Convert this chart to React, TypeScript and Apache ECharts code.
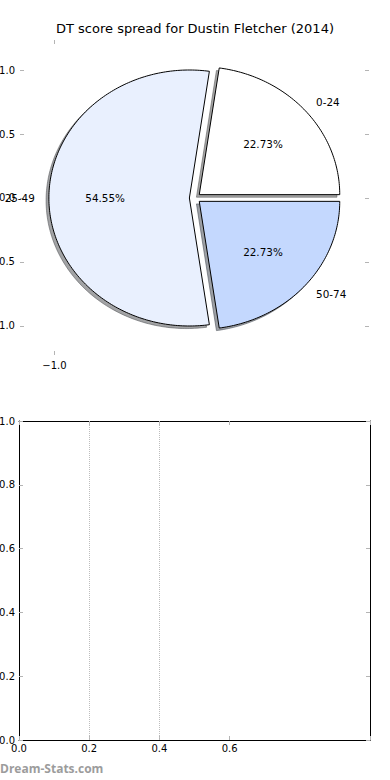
import React, { useEffect, useRef } from "react";
import * as echarts from "echarts";

// ---- data ----
const title = "DT score spread for Dustin Fletcher (2014)";
const categories = ["0-24", "25-49", "50-74"];
const counts = [5, 12, 5];
const sliceColors = ["#ffffff", "#e9f0fe", "#c4d8fe"];
const explode = [0.04, 0.04, 0.04];
const pieYTicks = [-1, -0.5, 0, 0.5, 1];
const pieXTicks = [-1];
const lowerXTicks = [0, 0.2, 0.4, 0.6, 1.0];
const lowerXLabels = [0, 0.2, 0.4, 0.6];
const lowerGridX = [0.2, 0.4];
const watermark = "Dream-Stats.com";

const FONT = "DejaVu Sans";
const TICK_COLOR = "#b4b4b4";

const fmt = (v: number) => (v < 0 ? "\u2212" : "") + Math.abs(v).toFixed(1);

function shadowColor(hex: string) {
  const r = parseInt(hex.slice(1, 3), 16);
  const g = parseInt(hex.slice(3, 5), 16);
  const b = parseInt(hex.slice(5, 7), 16);
  return `rgba(${Math.round(r * 0.3)},${Math.round(g * 0.3)},${Math.round(b * 0.3)},0.5)`;
}

const total = counts.reduce((a, b) => a + b, 0);

function wedgeAngles(i: number) {
  const before = counts.slice(0, i).reduce((a, b) => a + b, 0);
  const start = (before / total) * Math.PI * 2;
  const end = start + (counts[i] / total) * Math.PI * 2;
  return { start, end, mid: (start + end) / 2 };
}

function wedgePoints(api: any, i: number, dx: number, dy: number) {
  const { start, end, mid } = wedgeAngles(i);
  const ox = explode[i] * Math.cos(mid) + dx;
  const oy = explode[i] * Math.sin(mid) + dy;
  const pts: number[][] = [api.coord([ox, oy])];
  const n = Math.max(16, Math.ceil(((end - start) * 180) / Math.PI));
  for (let k = 0; k <= n; k++) {
    const a = start + ((end - start) * k) / n;
    pts.push(api.coord([ox + Math.cos(a), oy + Math.sin(a)]));
  }
  return pts;
}

const pieData = counts.map((c, i) => ({ name: categories[i], value: [0, 0, c] }));

function tickAxisCommon(extra: any) {
  return {
    type: "value",
    axisLine: { show: false, onZero: false },
    axisTick: { show: true, inside: true, length: 4, lineStyle: { color: TICK_COLOR, width: 1 } },
    splitLine: { show: false },
    ...extra,
  };
}

export default function App() {
  const ref = useRef<HTMLDivElement>(null);
  useEffect(() => {
    if (!ref.current) return;
    const chart = echarts.init(ref.current, undefined, { renderer: "svg" });
    const labelStyle = { fontSize: 10, fontFamily: FONT, color: "#000" };
    const pieX = { min: -1.2456, max: 1.2384 };
    const pieY = { min: -1.2266, max: 1.2344 };
    const frame = { show: true, onZero: false, lineStyle: { color: "#000", width: 1 } };

    const option: any = {
      animation: false,
      backgroundColor: "#ffffff",
      title: {
        text: title,
        left: "center",
        top: 17,
        textStyle: { fontSize: 13, fontWeight: "normal", fontFamily: FONT, color: "#000" },
      },
      grid: [
        { left: 20, top: 40, width: 349, height: 315, containLabel: false, outerBoundsMode: "none" },
        { left: 19, top: 421, width: 351, height: 319, containLabel: false, outerBoundsMode: "none" },
      ],
      xAxis: [
        tickAxisCommon({
          gridIndex: 0,
          position: "bottom",
          ...pieX,
          axisTick: { show: true, inside: true, length: 4, customValues: pieXTicks, lineStyle: { color: TICK_COLOR } },
          axisLabel: { ...labelStyle, customValues: pieXTicks, formatter: fmt, margin: 5 },
        }),
        tickAxisCommon({
          gridIndex: 0,
          position: "top",
          ...pieX,
          axisTick: { show: true, inside: true, length: 4, customValues: pieXTicks, lineStyle: { color: TICK_COLOR } },
          axisLabel: { show: false },
        }),
        tickAxisCommon({
          gridIndex: 1,
          position: "bottom",
          min: 0,
          max: 1,
          axisLine: frame,
          axisTick: { show: true, inside: true, length: 4, customValues: lowerXTicks, lineStyle: { color: TICK_COLOR } },
          axisLabel: { ...labelStyle, customValues: lowerXLabels, formatter: fmt, margin: 3 },
        }),
        tickAxisCommon({
          gridIndex: 1,
          position: "top",
          min: 0,
          max: 1,
          axisLine: frame,
          axisTick: { show: true, inside: true, length: 4, customValues: lowerXTicks, lineStyle: { color: TICK_COLOR } },
          axisLabel: { show: false },
        }),
      ],
      yAxis: [
        tickAxisCommon({
          gridIndex: 0,
          position: "left",
          ...pieY,
          axisTick: { show: true, inside: true, length: 4, customValues: pieYTicks, lineStyle: { color: TICK_COLOR } },
          axisLabel: { ...labelStyle, customValues: pieYTicks, formatter: fmt, margin: 5 },
        }),
        tickAxisCommon({
          gridIndex: 0,
          position: "right",
          ...pieY,
          axisTick: { show: true, inside: true, length: 4, customValues: pieYTicks, lineStyle: { color: TICK_COLOR } },
          axisLabel: { show: false },
        }),
        tickAxisCommon({
          gridIndex: 1,
          position: "left",
          min: 0,
          max: 1,
          interval: 0.2,
          axisLine: frame,
          axisLabel: { ...labelStyle, formatter: fmt, margin: 4 },
        }),
        tickAxisCommon({
          gridIndex: 1,
          position: "right",
          min: 0,
          max: 1,
          interval: 0.2,
          axisLine: frame,
          axisLabel: { show: false },
        }),
      ],
      series: [
        {
          type: "custom",
          name: "shadow",
          xAxisIndex: 0,
          yAxisIndex: 0,
          z: 1,
          silent: true,
          data: pieData,
          encode: { x: 0, y: 1 },
          renderItem: (params: any, api: any) => {
            const i = params.dataIndex;
            const c = shadowColor(sliceColors[i]);
            return {
              type: "polygon",
              shape: { points: wedgePoints(api, i, -0.02, -0.02) },
              style: { fill: c, stroke: c, lineWidth: 1 },
            };
          },
        },
        {
          type: "custom",
          name: "slices",
          xAxisIndex: 0,
          yAxisIndex: 0,
          z: 2,
          data: pieData,
          encode: { x: 0, y: 1 },
          renderItem: (params: any, api: any) => {
            const i = params.dataIndex;
            const { mid } = wedgeAngles(i);
            const ox = explode[i] * Math.cos(mid);
            const oy = explode[i] * Math.sin(mid);
            const pct = api.coord([ox + 0.6 * Math.cos(mid), oy + 0.6 * Math.sin(mid)]);
            const lab = api.coord([ox + 1.1 * Math.cos(mid), oy + 1.1 * Math.sin(mid)]);
            const value = api.value(2);
            return {
              type: "group",
              children: [
                {
                  type: "polygon",
                  shape: { points: wedgePoints(api, i, 0, 0) },
                  style: { fill: sliceColors[i], stroke: "#000", lineWidth: 1 },
                },
                {
                  type: "text",
                  x: pct[0],
                  y: pct[1],
                  style: {
                    text: ((value / total) * 100).toFixed(2) + "%",
                    fontSize: 10.4,
                    fontFamily: FONT,
                    fill: "#000",
                    align: "center",
                    verticalAlign: "middle",
                  },
                },
                {
                  type: "text",
                  x: lab[0],
                  y: lab[1],
                  style: {
                    text: categories[i],
                    fontSize: 10.4,
                    fontFamily: FONT,
                    fill: "#000",
                    align: Math.cos(mid) > 0 ? "left" : "right",
                    verticalAlign: "middle",
                  },
                },
              ],
            };
          },
        },
        {
          type: "line",
          name: "grid",
          xAxisIndex: 2,
          yAxisIndex: 2,
          data: [],
          markLine: {
            silent: true,
            symbol: ["none", "none"],
            label: { show: false },
            lineStyle: { type: "dotted", color: "#bdbdbd", width: 1 },
            data: lowerGridX.map((v) => ({ xAxis: v })),
          },
        },
      ],
      graphic: [
        {
          type: "text",
          left: 0,
          top: 762,
          style: {
            text: watermark,
            fontSize: 12,
            fontWeight: "bold",
            fontFamily: "Open Sans",
            fill: "#9c9c9c",
          },
        },
      ],
    };
    chart.setOption(option);
    return () => chart.dispose();
  }, []);
  return (
    <div
      ref={ref}
      style={{ position: "fixed", left: 0, top: 0, width: 390, height: 780, background: "#fff" }}
    />
  );
}
